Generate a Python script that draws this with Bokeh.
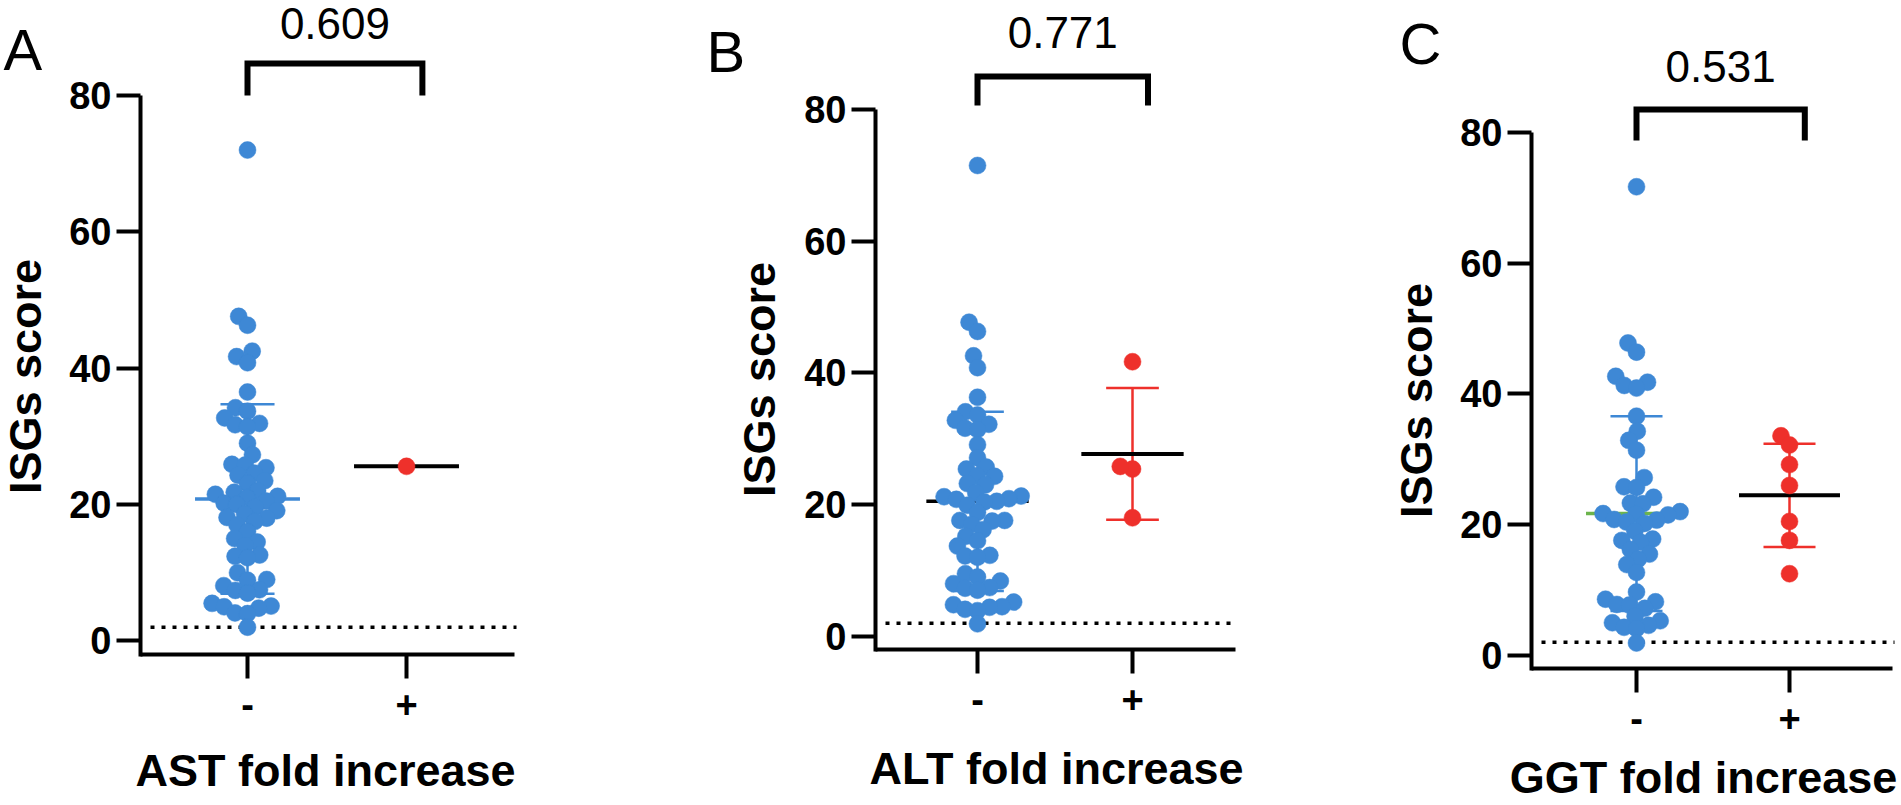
import numpy as np
from bokeh.plotting import figure
from bokeh.layouts import row
from bokeh.models import FixedTicker, Label
from bokeh.embed import file_html
from bokeh.resources import INLINE

# ---------------- data ----------------
groups = ["-", "+"]
panel_letters = ["A", "B", "C"]
x_titles = ["AST fold increase", "ALT fold increase", "GGT fold increase"]
y_title = "ISGs score"
p_values = ["0.609", "0.771", "0.531"]
y_ticks = [0, 20, 40, 60, 80]
cutoff = 2.0

ast_neg = [72, 47.6, 46.3, 42.5, 41.7, 40.8, 36.5, 34.2, 33.7, 32.7, 31.9, 31.7, 31.4,
           29.0, 27.3, 25.9, 25.8, 25.4, 24.6, 24.3, 23.5, 23.1, 22.0, 21.8, 21.5, 21.2,
           21.0, 20.5, 20.2, 20.0, 19.6, 19.1, 18.6, 18.1, 18.0, 17.5, 17.0, 16.0, 15.0,
           14.5, 14.0, 12.6, 12.4, 12.2, 10.0, 9.0, 8.9, 8.1, 7.5, 7.4, 7.0, 5.5, 5.1,
           5.0, 4.8, 4.1, 4.0, 2.0]
ast_pos = [25.6]

alt_neg = [71.5, 47.7, 46.3, 42.6, 40.8, 36.3, 34.1, 33.6, 32.8, 32.2, 31.6, 31.4, 29.1,
           27.1, 25.4, 25.7, 24.4, 24.3, 23.2, 23.0, 21.8, 21.3, 21.2, 20.9, 20.8, 20.5,
           20.4, 19.9, 18.8, 17.6, 17.6, 17.5, 17.0, 16.2, 15.2, 14.5, 13.7, 12.3, 12.2,
           12.0, 9.5, 9.0, 8.4, 8.0, 7.4, 7.3, 7.0, 5.2, 4.8, 4.5, 4.4, 4.1, 3.9, 1.9]
alt_pos = [41.7, 25.4, 25.8, 18.0]

ggt_neg = [71.7, 47.8, 46.4, 42.7, 41.8, 41.3, 40.9, 36.6, 34.3, 32.9, 31.4, 27.2, 25.8,
           25.7, 24.2, 23.3, 23.2, 22.0, 21.7, 21.6, 21.5, 20.8, 20.7, 20.4, 20.2, 19.0,
           17.8, 17.6, 17.3, 16.2, 15.5, 14.7, 13.9, 12.7, 9.7, 8.6, 8.2, 7.8, 7.7, 7.2,
           6.0, 5.3, 5.0, 4.6, 4.3, 4.1, 1.9]
ggt_pos = [33.6, 32.2, 29.2, 26.0, 20.5, 17.6, 12.5]

neg_means = [20.8, 20.5, 21.7]
neg_sds = [13.9, 13.6, 14.9]
pos_means = [25.6, 27.7, 24.5]
pos_sds = [0.0, 10.0, 7.9]

neg_series = [ast_neg, alt_neg, ggt_neg]
pos_series = [ast_pos, alt_pos, ggt_pos]

# ---------------- styling / layout ----------------
BLUE = "#3E88D5"
RED = "#EE302B"
GREEN = "#6CB44C"
neg_mean_colors = [BLUE, "black", GREEN]
FONT = "Liberation Sans"

# page-pixel layout of each panel (text positions are centres of the capitals)
layouts = [
    dict(fig_left=0, fig_w=695, frame_left=140, frame_right=514, cat0=247, cat1=406, y80=95, axis_y=654,
         letter=(3, 49), pval_y=23, ytitle=(25, 376), xtitle=(325, 770), bracket=(95, 63)),
    dict(fig_left=695, fig_w=690, frame_left=875, frame_right=1235, cat0=977, cat1=1132, y80=109, axis_y=649,
         letter=(706, 51), pval_y=32, ytitle=(759, 379), xtitle=(1056, 768), bracket=(105, 76)),
    dict(fig_left=1385, fig_w=514, frame_left=1531, frame_right=1892, cat0=1636, cat1=1789, y80=132, axis_y=668,
         letter=(1399, 43), pval_y=66, ytitle=(1416, 400), xtitle=(1703, 777), bracket=(140, 109)),
]
FIG_TOP = 0
FIG_BOTTOM = 803
Y_START = -2.0
MARKER = 17
SWARM_D = 12.5


def swarm(values, ppu):
    """Beeswarm offsets in pixels for the values (y in pixel space)."""
    vals = np.asarray(values, dtype=float)
    order = np.argsort(vals)
    out = np.zeros(len(vals))
    placed = []
    for i in order:
        y = vals[i] * ppu
        cands = [0.0]
        for (px, py) in placed:
            dy = y - py
            if abs(dy) < SWARM_D:
                dx = np.sqrt(SWARM_D ** 2 - dy ** 2)
                cands += [px - dx, px + dx]
        cands.sort(key=lambda c: (round(abs(c), 6), c))
        for c in cands:
            if all((c - px) ** 2 + (y - py) ** 2 >= SWARM_D ** 2 - 1e-6 for (px, py) in placed):
                out[i] = c
                placed.append((c, y))
                break
    return out


figs = []
for k in range(3):
    L = layouts[k]
    ppc = L["cat1"] - L["cat0"]
    ppu = (L["axis_y"] - L["y80"]) / (80 - Y_START)

    def px2x(px, ppc=ppc, L=L):
        return (px - L["cat0"]) / ppc

    def px2y(py, ppu=ppu, L=L):
        return Y_START + (L["axis_y"] - py) / ppu

    p = figure(width=L["fig_w"], height=FIG_BOTTOM - FIG_TOP,
               x_range=(px2x(L["fig_left"]), px2x(L["fig_left"] + L["fig_w"])),
               y_range=(px2y(FIG_BOTTOM), px2y(FIG_TOP)),
               output_backend="svg", toolbar_location=None, title=None,
               min_border=0, min_border_left=0, min_border_right=0,
               min_border_top=0, min_border_bottom=0)
    p.outline_line_color = None
    p.xgrid.visible = False
    p.ygrid.visible = False
    p.background_fill_color = "white"
    p.border_fill_color = "white"

    # axes, drawn at fixed data locations inside the frame
    x_axis_left = px2x(L["frame_left"])
    x_axis_right = px2x(L["frame_right"])
    p.yaxis.fixed_location = x_axis_left
    p.xaxis.fixed_location = Y_START
    p.yaxis.ticker = FixedTicker(ticks=y_ticks)
    p.yaxis.bounds = (Y_START - 2.0 / ppu, 80)
    p.xaxis.ticker = FixedTicker(ticks=[0, 1])
    p.xaxis.bounds = (x_axis_left, x_axis_right)
    p.xaxis.major_label_overrides = {0: groups[0], 1: groups[1]}
    for ax in (p.xaxis[0], p.yaxis[0]):
        ax.axis_line_width = 4
        ax.axis_line_color = "black"
        ax.major_tick_line_width = 4
        ax.major_tick_line_color = "black"
        ax.major_tick_out = 24
        ax.major_tick_in = 0
        ax.minor_tick_out = 0
        ax.minor_tick_in = 0
        ax.major_label_text_font = FONT
        ax.major_label_text_font_style = "bold"
        ax.major_label_text_font_size = "38px"
        ax.major_label_text_color = "black"
    p.yaxis.major_label_standoff = 5
    p.xaxis.major_label_standoff = 12

    # dotted cutoff line
    p.segment(x0=[px2x(L["frame_left"] + 10)], y0=[cutoff], x1=[px2x(L["frame_right"] + 2)], y1=[cutoff],
              line_color="black", line_width=3.5, line_dash="4 7")

    # error bars and means
    cap = 0.17
    mw = 0.33
    m, s = neg_means[k], neg_sds[k]
    p.segment(x0=[0], y0=[m - s], x1=[0], y1=[m + s], line_color=BLUE, line_width=2.5)
    p.segment(x0=[-cap, -cap], y0=[m - s, m + s], x1=[cap, cap], y1=[m - s, m + s],
              line_color=BLUE, line_width=2.5)
    p.segment(x0=[-mw], y0=[m], x1=[mw], y1=[m], line_color=neg_mean_colors[k], line_width=3.5)
    m, s = pos_means[k], pos_sds[k]
    if s > 0:
        p.segment(x0=[1], y0=[m - s], x1=[1], y1=[m + s], line_color=RED, line_width=2.5)
        p.segment(x0=[1 - cap, 1 - cap], y0=[m - s, m + s], x1=[1 + cap, 1 + cap], y1=[m - s, m + s],
                  line_color=RED, line_width=2.5)
    p.segment(x0=[1 - mw], y0=[m], x1=[1 + mw], y1=[m], line_color="black", line_width=4)

    # points
    nv = neg_series[k]
    pv = pos_series[k]
    nx = 0 + swarm(nv, ppu) / ppc
    px_ = 1 + swarm(pv, ppu) / ppc
    p.scatter(x=nx, y=nv, size=MARKER, fill_color=BLUE, line_color=BLUE, line_width=0.5)
    p.scatter(x=px_, y=pv, size=MARKER, fill_color=RED, line_color=RED, line_width=0.5)

    # significance bracket
    b_low = px2y(L["bracket"][0])
    b_high = px2y(L["bracket"][1])
    p.line(x=[0, 0, 1.1, 1.1], y=[b_low, b_high, b_high, b_low], line_color="black",
           line_width=6, line_join="miter")
    p.add_layout(Label(x=0.55, y=px2y(L["pval_y"]), text=p_values[k], text_align="center",
                       text_baseline="middle", text_font=FONT, text_font_size="44px",
                       text_color="black"))

    # panel letter
    p.add_layout(Label(x=px2x(L["letter"][0]), y=px2y(L["letter"][1]), text=panel_letters[k],
                       text_align="left", text_baseline="middle", text_font=FONT,
                       text_font_size="58px", text_color="black"))
    # axis titles
    p.add_layout(Label(x=px2x(L["ytitle"][0]), y=px2y(L["ytitle"][1]), text=y_title, angle=np.pi / 2,
                       text_align="center", text_baseline="middle", text_font=FONT,
                       text_font_style="bold", text_font_size="45px", text_color="black"))
    p.add_layout(Label(x=px2x(L["xtitle"][0]), y=px2y(L["xtitle"][1]), text=x_titles[k],
                       text_align="center", text_baseline="middle", text_font=FONT,
                       text_font_style="bold", text_font_size="45px", text_color="black"))
    figs.append(p)

layout = row(*figs, spacing=0)
open("out.html", "w").write(file_html(layout, INLINE))
